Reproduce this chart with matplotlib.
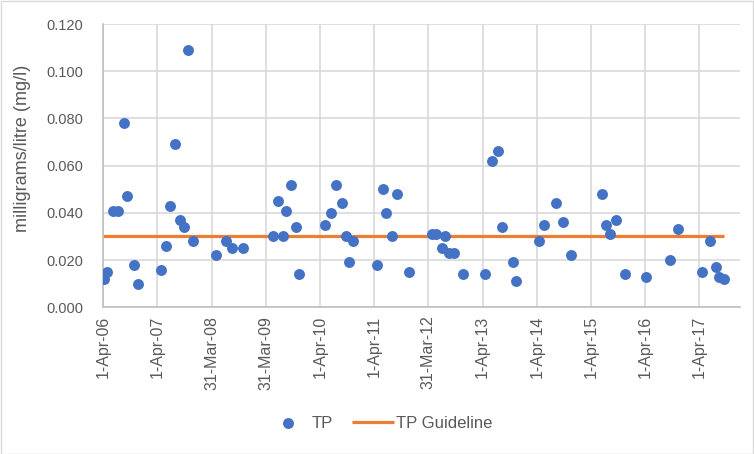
import matplotlib
matplotlib.use("Agg")
import matplotlib.pyplot as plt
import pandas as pd
from matplotlib.patches import Rectangle

start = pd.Timestamp("2006-04-01")
sample_days = [5, 27, 63, 101, 137, 160, 205, 234, 386, 422, 449, 483, 516, 545, 568, 604,
               757, 824, 867, 945, 1147, 1176, 1208, 1230, 1262, 1300, 1322,
               1493, 1533, 1567, 1607, 1634, 1654, 1686, 1843, 1883, 1903, 1944, 1978, 2058,
               2215, 2245, 2283, 2301, 2333, 2362, 2427, 2570, 2622, 2658, 2691, 2759, 2784,
               2934, 2972, 3055, 3100, 3154, 3365, 3390, 3417, 3457, 3518, 3659, 3823, 3877,
               4038, 4090, 4128, 4151, 4186]
tp = [0.012, 0.015, 0.041, 0.041, 0.078, 0.047, 0.018, 0.010, 0.016, 0.026, 0.043, 0.069, 0.037, 0.034, 0.109, 0.028,
      0.022, 0.028, 0.025, 0.025, 0.030, 0.045, 0.030, 0.041, 0.052, 0.034, 0.014,
      0.035, 0.040, 0.052, 0.044, 0.030, 0.019, 0.028, 0.018, 0.050, 0.040, 0.030, 0.048, 0.015,
      0.031, 0.031, 0.025, 0.030, 0.023, 0.023, 0.014, 0.014, 0.062, 0.066, 0.034, 0.019, 0.011,
      0.028, 0.035, 0.044, 0.036, 0.022, 0.048, 0.035, 0.031, 0.037, 0.014, 0.013, 0.020, 0.033,
      0.015, 0.028, 0.017, 0.013, 0.012]
guideline = 0.030
tick_dates = ["2006-04-01", "2007-04-01", "2008-03-31", "2009-03-31", "2010-04-01", "2011-04-01",
              "2012-03-31", "2013-04-01", "2014-04-01", "2015-04-01", "2016-04-01", "2017-04-01"]
tick_labels = ["1-Apr-06", "1-Apr-07", "31-Mar-08", "31-Mar-09", "1-Apr-10", "1-Apr-11",
               "31-Mar-12", "1-Apr-13", "1-Apr-14", "1-Apr-15", "1-Apr-16", "1-Apr-17"]
y_ticks = [0.0, 0.02, 0.04, 0.06, 0.08, 0.10, 0.12]

dates = [start + pd.Timedelta(days=d) for d in sample_days]
gl_dates = [start, dates[-1]]

W, H = 754, 454
fig = plt.figure(figsize=(W / 100, H / 100), dpi=100)
ax = fig.add_axes([103.3 / W, 1 - 307.3 / H, (740 - 103.3) / W, (307.3 - 24) / H])

txt = "#595959"
font = "Liberation Sans"

ax.plot(gl_dates, [guideline, guideline], color="#ED7D31", lw=2.3, zorder=2,
        solid_capstyle="butt", label="TP Guideline")
ax.scatter(dates, tp, s=62, color="#4472C4", zorder=3, linewidths=0, label="TP")

ax.set_xlim(start, pd.Timestamp("2017-12-31"))
ax.set_ylim(0, 0.12)
ax.set_yticks(y_ticks)
ax.set_yticklabels([f"{v:.3f}" for v in y_ticks], family=font, fontsize=10.5, color=txt)
ax.set_xticks([pd.Timestamp(d) for d in tick_dates])
ax.set_xticklabels(tick_labels, rotation=90, family=font, fontsize=11.5, color=txt)
ax.tick_params(axis="y", length=0, pad=14.5)
ax.tick_params(axis="x", length=0, pad=6)
ax.grid(True, color="#D9D9D9", lw=1.2)
ax.set_axisbelow(True)
for s in ["top", "right"]:
    ax.spines[s].set_visible(False)
for s in ["left", "bottom"]:
    ax.spines[s].set_color("#BFBFBF")
    ax.spines[s].set_linewidth(1.2)

fig.text(23 / W, 1 - 148 / H, "milligrams/litre (mg/l)", rotation=90, ha="center", va="center",
         family=font, fontsize=13, color=txt)

h, l = ax.get_legend_handles_labels()
leg = fig.legend([h[1], h[0]], [l[1], l[0]], loc="center", bbox_to_anchor=(380 / W, 1 - 423 / H),
                 ncol=2, frameon=False, prop={"family": font, "size": 12}, handlelength=2.5,
                 columnspacing=1.15, handletextpad=0.15, borderpad=0)
for t in leg.get_texts():
    t.set_color(txt)

fig.patches.append(Rectangle((0.5 / W, 0.5 / H), 1 - 1.5 / W, 1 - 1.5 / H, transform=fig.transFigure,
                             fill=False, edgecolor="#D9D9D9", lw=1))

fig.savefig("out.png", dpi=100)
